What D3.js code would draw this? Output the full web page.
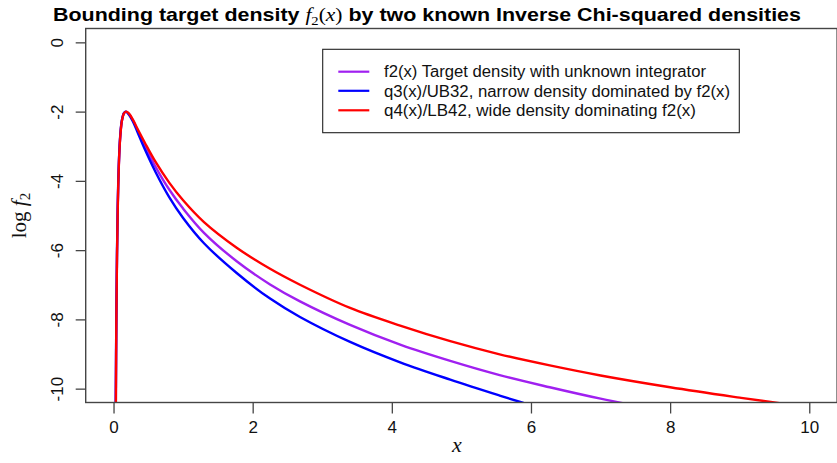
<!DOCTYPE html>
<html>
<head>
<meta charset="utf-8">
<script src="https://cdn.jsdelivr.net/npm/d3@7"></script>
<style>
  html, body { margin: 0; padding: 0; background: #fff; }
  svg { display: block; }
</style>
</head>
<body>
<div id="chart"></div>
<script>
// ---- data ----
const xTicks = [0, 2, 4, 6, 8, 10];
const yTicks = [0, -2, -4, -6, -8, -10];

const f2X = [0.033,0.04,0.05,0.06,0.07,0.085,0.10,0.12,0.15,0.18,0.22,0.28,0.35,0.45,0.6,0.8,1.0,1.3,1.77,2.25,2.68,3.4,4.12,4.84,5.55,6.27,7.0,7.4];
const f2Y = [-10.4,-8.1,-6.1,-4.8,-3.93,-3.1,-2.63,-2.27,-2.05,-2.0,-2.06,-2.26,-2.56,-2.99,-3.58,-4.25,-4.8,-5.5,-6.32,-6.99,-7.48,-8.16,-8.73,-9.2,-9.61,-9.96,-10.29,-10.45];

const q3X = [0.032,0.04,0.05,0.06,0.07,0.085,0.10,0.12,0.15,0.175,0.21,0.28,0.35,0.45,0.6,0.8,1.0,1.3,1.77,2.25,2.68,3.4,4.12,4.84,5.55,5.87,6.0];
const q3Y = [-10.4,-8.0,-6.05,-4.75,-3.9,-3.08,-2.6,-2.25,-2.04,-2.0,-2.06,-2.29,-2.62,-3.09,-3.73,-4.47,-5.07,-5.8,-6.66,-7.4,-7.93,-8.65,-9.24,-9.74,-10.2,-10.4,-10.48];

const q4X = [0.034,0.04,0.05,0.06,0.07,0.085,0.10,0.12,0.15,0.18,0.22,0.28,0.35,0.45,0.6,0.8,1.0,1.3,1.77,2.25,2.68,3.4,4.12,4.84,5.55,6.27,7.0,8.0,9.0,9.6,9.8];
const q4Y = [-10.4,-8.2,-6.2,-4.9,-3.98,-3.12,-2.64,-2.27,-2.05,-2.0,-2.05,-2.24,-2.52,-2.9,-3.44,-4.05,-4.56,-5.19,-5.93,-6.54,-7.0,-7.67,-8.18,-8.63,-9.01,-9.33,-9.62,-9.96,-10.26,-10.43,-10.49];

const seriesNames = ["f2", "q3", "q4"];
const seriesColors = ["#A020F0", "#0000FF", "#FF0000"];
const legendLabels = [
  "f2(x) Target density with unknown integrator",
  "q3(x)/UB32, narrow density dominated by f2(x)",
  "q4(x)/LB42, wide density dominating f2(x)"
];

const W = 837, H = 463;
const svg = d3.select("#chart").append("svg").attr("width", W).attr("height", H);

const x = d3.scaleLinear().domain([-0.4, 10.4]).range([85.7, 837.1]);
const y = d3.scaleLinear().domain([-10.4, 0.4]).range([402.5, 28.5]);

svg.append("defs").append("clipPath").attr("id", "clip")
  .append("rect")
  .attr("x", x(-0.4)).attr("y", y(0.4))
  .attr("width", x(10.4) - x(-0.4)).attr("height", y(-10.4) - y(0.4));

const series = [
  { name: seriesNames[0], xs: f2X, ys: f2Y, color: seriesColors[0] },
  { name: seriesNames[1], xs: q3X, ys: q3Y, color: seriesColors[1] },
  { name: seriesNames[2], xs: q4X, ys: q4Y, color: seriesColors[2] }
];

const line = d3.line().x(d => x(d[0])).y(d => y(d[1])).curve(d3.curveCatmullRom.alpha(0.5));

const g = svg.append("g").attr("clip-path", "url(#clip)");
series.forEach(s => {
  const pts = s.xs.map((v, i) => [v, s.ys[i]]);
  g.append("path").datum(pts)
    .attr("d", line)
    .attr("fill", "none")
    .attr("stroke", s.color)
    .attr("stroke-width", 2.4)
    .attr("stroke-linejoin", "round");
});

// plot box
svg.append("rect")
  .attr("x", x(-0.4)).attr("y", y(0.4))
  .attr("width", x(10.4) - x(-0.4)).attr("height", y(-10.4) - y(0.4))
  .attr("fill", "none").attr("stroke", "#454545").attr("stroke-width", 1.4);

// x axis
const xAxis = svg.append("g")
  .attr("transform", `translate(0,${y(-10.4)})`)
  .call(d3.axisBottom(x).tickValues(xTicks).tickSize(11).tickPadding(7).tickFormat(d3.format("d")));
xAxis.select(".domain").remove();
xAxis.selectAll("line").attr("stroke", "#454545").attr("stroke-width", 1.3);
xAxis.selectAll("text")
  .attr("font-family", "'Liberation Sans', Arial, sans-serif")
  .attr("font-size", 17).attr("fill", "#111");

// y axis
const yAxis = svg.append("g")
  .attr("transform", `translate(${x(-0.4)},0)`)
  .call(d3.axisLeft(y).tickValues(yTicks).tickSize(10).tickPadding(13).tickFormat(d => String(d)));
yAxis.select(".domain").remove();
yAxis.selectAll("line").attr("stroke", "#454545").attr("stroke-width", 1.3);
yAxis.selectAll("text")
  .attr("font-family", "'Liberation Sans', Arial, sans-serif")
  .attr("font-size", 17).attr("fill", "#111")
  .attr("transform", "rotate(-90)")
  .attr("x", 0).attr("y", -23).attr("dy", 0)
  .attr("text-anchor", "middle");

// title
const title = svg.append("text")
  .attr("x", 0).attr("y", 0)
  .attr("font-family", "'Liberation Sans', Arial, sans-serif")
  .attr("font-weight", "bold").attr("font-size", 19).attr("fill", "#000");
title.append("tspan").text("Bounding target density ");
title.append("tspan").attr("font-family", "'Liberation Serif', 'DejaVu Serif', serif")
  .attr("font-weight", "normal").attr("font-style", "italic").text("f");
title.append("tspan").attr("font-family", "'Liberation Serif', 'DejaVu Serif', serif")
  .attr("font-weight", "normal").attr("font-size", 13).attr("dy", 4).text("2");
title.append("tspan").attr("font-family", "'Liberation Serif', 'DejaVu Serif', serif")
  .attr("font-weight", "normal").attr("dy", -4).text("(");
title.append("tspan").attr("font-family", "'Liberation Serif', 'DejaVu Serif', serif")
  .attr("font-weight", "normal").attr("font-style", "italic").text("x");
title.append("tspan").attr("font-family", "'Liberation Serif', 'DejaVu Serif', serif")
  .attr("font-weight", "normal").text(")");
title.append("tspan").text(" by two known Inverse Chi-squared densities");
{
  const bb = title.node().getBBox();
  const targetW = 748, left = 53, baseline = 21;
  const sx = targetW / bb.width;
  title.attr("transform", `translate(${left},${baseline}) scale(${sx},1)`);
}

// y label
const ylab = svg.append("text")
  .attr("transform", `translate(26,${(y(0.4) + y(-10.4)) / 2}) rotate(-90)`)
  .attr("text-anchor", "middle")
  .attr("font-family", "'Liberation Serif', 'DejaVu Serif', serif")
  .attr("font-size", 21).attr("fill", "#111");
ylab.append("tspan").text("log ");
ylab.append("tspan").attr("font-style", "italic").text("f");
ylab.append("tspan").attr("font-size", 15).attr("dy", 4).text("2");

// x label
svg.append("text")
  .attr("x", (x(-0.4) + 828) / 2).attr("y", 452)
  .attr("text-anchor", "middle")
  .attr("font-family", "'Liberation Serif', 'DejaVu Serif', serif")
  .attr("font-style", "italic")
  .attr("font-size", 22).attr("fill", "#111")
  .text("x");

// legend
const lg = svg.append("g");
lg.append("rect")
  .attr("x", 322.7).attr("y", 49.3).attr("width", 416.6).attr("height", 83.4)
  .attr("fill", "#fff").attr("stroke", "#222").attr("stroke-width", 1.1);
const legendY = [71.7, 90.8, 110.3];
const legendW = [322, 346, 312];
legendLabels.forEach((lab, i) => {
  lg.append("line")
    .attr("x1", 338.3).attr("x2", 369.3)
    .attr("y1", legendY[i]).attr("y2", legendY[i])
    .attr("stroke", seriesColors[i]).attr("stroke-width", 2.2);
  lg.append("text")
    .attr("x", 384).attr("y", legendY[i])
    .attr("dy", "0.36em")
    .attr("font-family", "'Liberation Sans', Arial, sans-serif")
    .attr("font-size", 16).attr("fill", "#111")
    .attr("textLength", legendW[i]).attr("lengthAdjust", "spacingAndGlyphs")
    .text(lab);
});
</script>
</body>
</html>
